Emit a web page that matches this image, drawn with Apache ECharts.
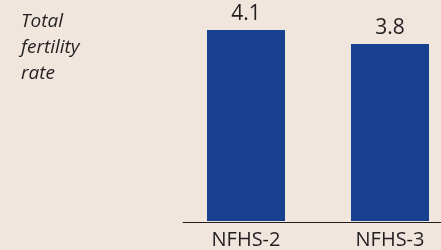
<!DOCTYPE html>
<html>
<head>
<meta charset="utf-8">
<script src="https://cdn.jsdelivr.net/npm/echarts@6/dist/echarts.min.js"></script>
<style>
  html, body { margin: 0; padding: 0; background: #f0e6de; }
  #chart { width: 441px; height: 250px; }
</style>
</head>
<body>
<div id="chart"></div>
<script>
const surveys = ['NFHS-2', 'NFHS-3']
const fertilityRate = [4.1, 3.8]
const axisTitle = 'Total\nfertility\nrate'

const chart = echarts.init(document.getElementById('chart'))

chart.setOption({
  backgroundColor: '#f0e6de',
  animation: false,
  title: {
    text: axisTitle,
    left: 16,
    top: 4,
    textStyle: {
      fontFamily: 'Open Sans',
      fontStyle: 'italic',
      fontWeight: 'normal',
      fontSize: 19,
      lineHeight: 26,
      color: '#231f20',
    },
  },
  grid: [
    // categories sit on the grid edges (boundaryGap false)
    { left: 246, right: 51, top: 30, bottom: 28 },
    // second grid only carries the baseline
    { left: 183, right: 0, top: 30, bottom: 28 },
  ],
  xAxis: [
    {
      type: 'category',
      gridIndex: 0,
      boundaryGap: false,
      data: surveys,
      axisLine: { show: false },
      axisTick: { show: false },
      axisLabel: {
        color: '#231f20',
        fontFamily: 'Open Sans',
        fontSize: 20,
        margin: 9,
      },
    },
    {
      type: 'value',
      gridIndex: 1,
      min: 0,
      max: 1,
      axisLine: { show: true, lineStyle: { color: '#231f20', width: 1 } },
      axisTick: { show: false },
      axisLabel: { show: false },
      splitLine: { show: false },
    },
  ],
  yAxis: [
    { type: 'value', gridIndex: 0, min: 0, max: 4.1, show: false },
    { type: 'value', gridIndex: 1, min: 0, max: 1, show: false },
  ],
  series: [
    {
      type: 'bar',
      xAxisIndex: 0,
      yAxisIndex: 0,
      data: fertilityRate,
      barWidth: 78,
      itemStyle: { color: '#17408f' },
      label: {
        show: true,
        position: 'top',
        distance: 5,
        color: '#231f20',
        fontFamily: 'Open Sans',
        fontSize: 21,
        formatter: (p) => p.value.toFixed(1),
      },
    },
  ],
})
</script>
</body>
</html>
